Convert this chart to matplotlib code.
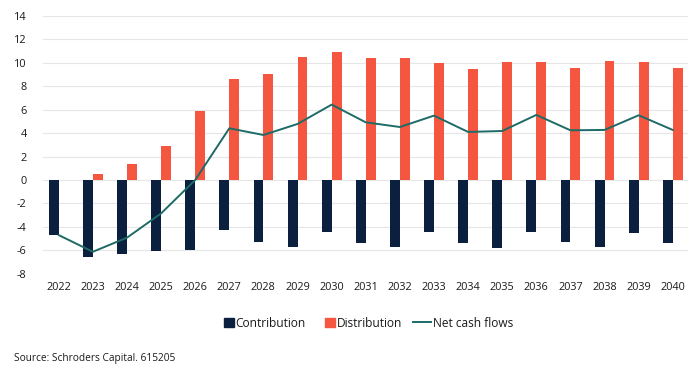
import numpy as np
import matplotlib.pyplot as plt
from matplotlib.patches import Rectangle
from matplotlib.lines import Line2D
from matplotlib.legend_handler import HandlerPatch

plt.rcParams['font.family'] = ['Open Sans', 'DejaVu Sans']
plt.rcParams['axes.unicode_minus'] = False

years = [str(y) for y in range(2022, 2041)]
contribution = [-4.7, -6.55, -6.32, -6.04, -5.98, -4.27, -5.29, -5.75, -4.47,
                -5.35, -5.75, -4.41, -5.38, -5.78, -4.47, -5.29, -5.75, -4.52, -5.35]
distribution = [0.0, 0.48, 1.37, 2.93, 5.92, 8.62, 9.08, 10.5, 10.9,
                10.39, 10.39, 10.02, 9.45, 10.1, 10.07, 9.59, 10.13, 10.1, 9.59]
net_cash = [-4.7, -6.12, -4.92, -2.85, 0.0, 4.41, 3.84, 4.78, 6.43,
            4.92, 4.52, 5.49, 4.1, 4.18, 5.55, 4.24, 4.27, 5.52, 4.27]

navy = '#0b1f3f'
orange = '#f5563f'
teal = '#1d6a66'
text_col = '#1a1a1a'

fig = plt.figure(figsize=(7, 3.69), dpi=100)
ax = fig.add_axes([0.062, 0.258, 0.921, 0.699])

x = np.arange(len(years))
w = 0.29
ax.bar(x, contribution, width=-w, align='edge', color=navy, zorder=2)
ax.bar(x, distribution, width=w, align='edge', color=orange, zorder=2)
ax.plot(x, net_cash, color=teal, lw=1.4, zorder=3)

ax.set_xlim(-0.45, len(years) - 0.55)
ax.set_ylim(-8, 14)
ax.set_yticks(range(-8, 15, 2))
ax.set_xticks(x)
ax.set_xticklabels(years)
ax.grid(axis='y', color='#e6e6e6', lw=0.8, zorder=0)
for s in ax.spines.values():
    s.set_visible(False)
ax.tick_params(length=0, labelsize=7.8, colors=text_col)
ax.tick_params(axis='y', pad=12)
ax.tick_params(axis='x', pad=6)


# square legend markers sitting next to their text
def square(legend, orig_handle, xdescent, ydescent, width, height, fontsize):
    s = 0.8 * fontsize
    return Rectangle((width - s - xdescent, (height - s) / 2 - ydescent), s, s)


handles = [Rectangle((0, 0), 1, 1, color=navy),
           Rectangle((0, 0), 1, 1, color=orange),
           Line2D([], [], color=teal, lw=1.4)]
labels = ['Contribution', 'Distribution', 'Net cash flows']
leg = ax.legend(handles, labels, loc='center', bbox_to_anchor=(0.498, -0.191), ncol=3,
                frameon=False, fontsize=8.6, handlelength=1.5, handletextpad=0.15,
                columnspacing=0.95,
                handler_map={Rectangle: HandlerPatch(patch_func=square)})
for t in leg.get_texts():
    t.set_color(text_col)

fig.text(0.02, 0.022, 'Source: Schroders Capital. 615205', fontsize=7.3, color=text_col)

fig.savefig('out.png', dpi=100)
